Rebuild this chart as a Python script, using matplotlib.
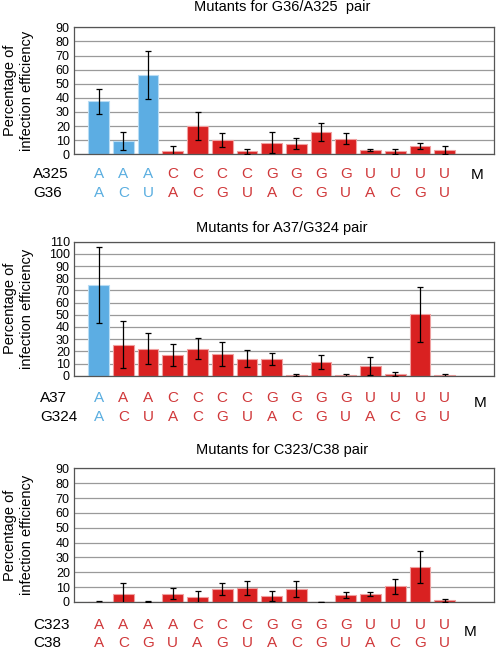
import numpy as np
import matplotlib
matplotlib.use("Agg")
import matplotlib.pyplot as plt
import matplotlib.transforms as mtransforms

plt.rcParams['font.family'] = ['Liberation Sans', 'DejaVu Sans']

# Panel 1: G36/A325
p1_row1 = ["A", "A", "A", "C", "C", "C", "C", "G", "G", "G", "G", "U", "U", "U", "U"]
p1_row2 = ["A", "C", "U", "A", "C", "G", "U", "A", "C", "G", "U", "A", "C", "G", "U"]
p1_vals = [37.5, 9.5, 56, 2.5, 20, 10, 2, 8.3, 7.5, 16, 11, 3, 2, 6, 3.2]
p1_err = [9, 6.5, 17, 3.5, 10, 5, 1.5, 7.5, 4, 6.5, 4, 0.5, 1.5, 2, 3]
p1_blue = 3

# Panel 2: A37/G324
p2_row1 = ["A", "A", "A", "C", "C", "C", "C", "G", "G", "G", "G", "U", "U", "U", "U"]
p2_row2 = ["A", "C", "U", "A", "C", "G", "U", "A", "C", "G", "U", "A", "C", "G", "U"]
p2_vals = [74.5, 25.5, 22, 17, 22.3, 18, 14, 14, 0.5, 11.5, 0.5, 7.7, 1.4, 50.3, 0.5]
p2_err = [31, 19.5, 12.7, 9, 9, 10, 7, 5, 0.5, 5.7, 1.2, 7.5, 1.3, 22.8, 1.3]
p2_blue = 1

# Panel 3: C323/C38
p3_row1 = ["A", "A", "A", "A", "C", "C", "C", "G", "G", "G", "G", "U", "U", "U", "U"]
p3_row2 = ["A", "C", "G", "U", "A", "G", "U", "A", "C", "G", "U", "A", "C", "G", "U"]
p3_vals = [0.2, 5.6, 0.2, 5.4, 3.4, 8.8, 9.6, 4.3, 9.0, 0, 4.7, 5.4, 10.5, 23.6, 1.1]
p3_err = [0.6, 7.4, 0.5, 3.7, 3.8, 3.8, 4.7, 3.3, 5.4, 0, 1.8, 1.3, 5.2, 10.8, 1.0]
p3_blue = 0

BLUE = "#5cade3"
RED = "#d92121"
BLUE_TXT = "#5aaee0"
RED_TXT = "#d0383a"

W, H = 498, 651
fig = plt.figure(figsize=(W / 100, H / 100), dpi=100)


def fy(px):
    return 1 - px / H


def panel(top, bottom, ymax, title, title_y, vals, err, nblue, row1, row2,
          names, name_x, row_y, m_pos):
    ax = fig.add_axes([74 / W, fy(bottom), 420 / W, (bottom - top) / H])
    x = np.arange(1, len(vals) + 1)
    colors = [BLUE if i < nblue else RED for i in range(len(vals))]
    edges = ["#b8dcf4" if i < nblue else "#f0a0a0" for i in range(len(vals))]
    ax.bar(x, vals, width=0.84, color=colors, edgecolor=edges, linewidth=0.8, zorder=2)
    ax.errorbar(x, vals, yerr=err, fmt="none", ecolor="black", elinewidth=0.9,
                capsize=2.2, capthick=0.9, zorder=3)
    ax.set_xlim(0, 17)
    ax.set_ylim(0, ymax)
    ax.set_yticks(np.arange(0, ymax + 1, 10))
    ax.set_xticks([])
    ax.yaxis.grid(True, color="#9a9a9a", linewidth=0.9, zorder=0)
    ax.set_axisbelow(True)
    for s in ax.spines.values():
        s.set_color("#555555")
        s.set_linewidth(0.9)
    ax.tick_params(axis="y", length=0, pad=3, labelsize=9)
    fig.text(282 / W, fy(title_y), title, ha="center", va="center", fontsize=10.5)
    fig.text(18.5 / W, fy((top + bottom) / 2), "Percentage of\ninfection efficiency",
             rotation=90, ha="center", va="center", fontsize=10.5, linespacing=1.25)
    trans = mtransforms.blended_transform_factory(ax.transData, fig.transFigure)
    for i in range(len(vals)):
        c = BLUE_TXT if i < nblue else RED_TXT
        ax.text(x[i], fy(row_y[0]), row1[i], transform=trans, ha="center",
                va="center", fontsize=11, color=c, clip_on=False)
        ax.text(x[i], fy(row_y[1]), row2[i], transform=trans, ha="center",
                va="center", fontsize=11, color=c, clip_on=False)
    fig.text(name_x / W, fy(row_y[0]), names[0], ha="left", va="center", fontsize=11)
    fig.text(name_x / W, fy(row_y[1]), names[1], ha="left", va="center", fontsize=11)
    fig.text(m_pos[0] / W, fy(m_pos[1]), "M", ha="center", va="center", fontsize=11)
    return ax


panel(27.3, 154.3, 90, "Mutants for G36/A325  pair", 7, p1_vals, p1_err, p1_blue,
      p1_row1, p1_row2, ["A325", "G36"], 33, (174, 193), (477, 175))
panel(241.7, 375.7, 110, "Mutants for A37/G324 pair", 228, p2_vals, p2_err, p2_blue,
      p2_row1, p2_row2, ["A37", "G324"], 40, (398, 417), (480, 403))
panel(468.3, 602, 90, "Mutants for C323/C38 pair", 450, p3_vals, p3_err, p3_blue,
      p3_row1, p3_row2, ["C323", "C38"], 33, (625, 643), (470, 632))

fig.savefig("out.png", dpi=100)
